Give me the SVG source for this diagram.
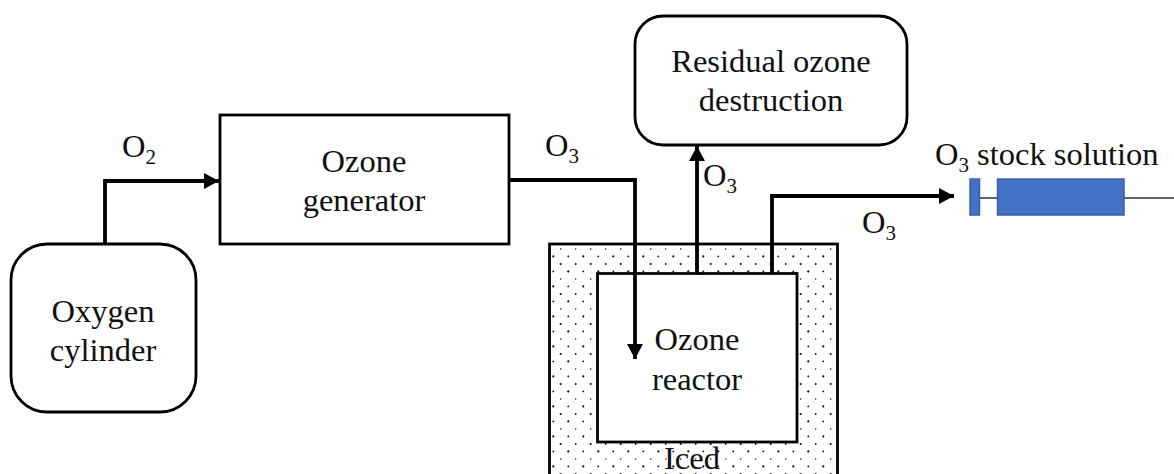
<svg xmlns="http://www.w3.org/2000/svg" width="1174" height="474" viewBox="0 0 1174 474">
<style>
.b{fill:#fff;stroke:#000;stroke-width:2.800}
.c{fill:none;stroke:#000;stroke-width:3.800}
text{font-family:"Liberation Serif","Times New Roman",serif;font-size:32.500px;fill:#111}
.m{text-anchor:middle}
.s{font-size:21px}
</style>
<defs>
<marker id="a" markerUnits="userSpaceOnUse" markerWidth="16" markerHeight="20" refX="15" refY="10" orient="auto"><path d="M0 2L15 10L0 18Z" fill="#000"/></marker>
<pattern id="d" width="30" height="30" patternUnits="userSpaceOnUse" x="549" y="244">
<rect width="30" height="30" fill="#fff"/>
<g fill="#111"><circle cx="11.700" cy="5" r=".8"/><circle cx="26.700" cy="5" r=".7"/><circle cx="4.300" cy="12.400" r="1.100"/><circle cx="19.300" cy="12.400" r=".9"/><circle cx="11.700" cy="20" r="1.100"/><circle cx="26.700" cy="20" r=".9"/><circle cx="4.300" cy="27.400" r=".9"/><circle cx="19.300" cy="27.400" r="1.100"/></g>
</pattern>
</defs>
<g id="iced"><rect x="549.500" y="244" width="288" height="240" fill="url(#d)" stroke="#000" stroke-width="2.800"/><text x="692" y="469" class="m">Iced</text></g>
<g id="oxygen-cylinder"><rect class="b" x="11" y="244" width="185" height="168" rx="36"/><text x="103" y="322" class="m">Oxygen</text><text x="103" y="361" class="m">cylinder</text></g>
<g id="ozone-generator"><rect class="b" x="220" y="115" width="289" height="129"/><text x="364" y="172" class="m">Ozone</text><text x="364" y="211" class="m">generator</text></g>
<g id="residual"><rect class="b" x="635" y="16" width="272" height="129" rx="28"/><text x="771" y="72" class="m">Residual ozone</text><text x="771" y="111" class="m">destruction</text></g>
<g id="ozone-reactor"><rect class="b" x="597.500" y="273.500" width="199.500" height="168.500"/><text x="697" y="350" class="m">Ozone</text><text x="697" y="390" class="m">reactor</text></g>
<g id="syringe" fill="#4472c4" stroke="#3a62a8" stroke-width="1.500"><path d="M980 198H997M1124 198H1174" fill="none" stroke="#333"/><rect x="970" y="179" width="9.500" height="36"/><rect x="997.500" y="179" width="126.500" height="36"/></g>
<g id="connectors">
<path class="c" d="M105 244V181H219" marker-end="url(#a)"/>
<path class="c" d="M510 180H635V359" marker-end="url(#a)"/>
<path class="c" d="M697 273V146" marker-end="url(#a)"/>
<path class="c" d="M772 273V196H954" marker-end="url(#a)"/>
</g>
<g id="labels">
<text x="122" y="157">O<tspan class="s" dy="7">2</tspan></text>
<text x="545" y="156">O<tspan class="s" dy="7">3</tspan></text>
<text x="703" y="186">O<tspan class="s" dy="7">3</tspan></text>
<text x="862" y="233">O<tspan class="s" dy="7">3</tspan></text>
<text x="935" y="165">O<tspan class="s" dy="7">3</tspan><tspan dy="-7"> stock solution</tspan></text>
</g>
</svg>
